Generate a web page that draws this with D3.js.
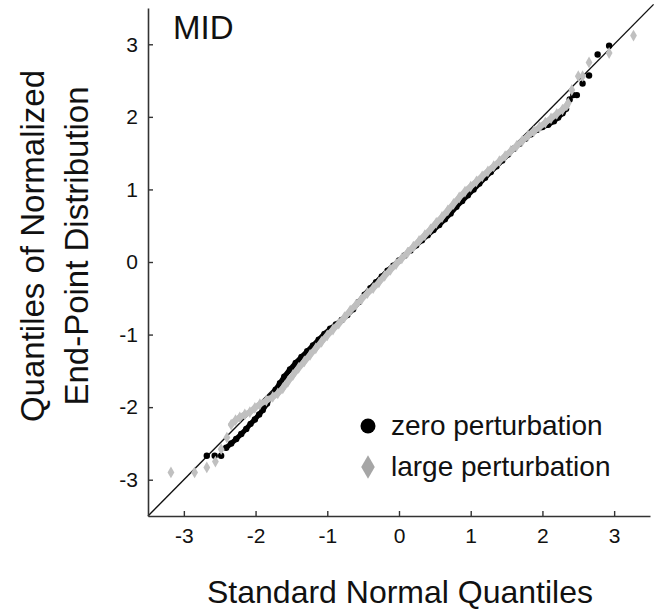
<!DOCTYPE html>
<html>
<head>
<meta charset="utf-8">
<script src="https://cdn.jsdelivr.net/npm/d3@7"></script>
<style>
  body { margin: 0; background: white; }
  text { font-family: "Liberation Sans", Arial, Helvetica, sans-serif; fill: #111; }
</style>
</head>
<body>
<script>
// tick values shared by both axes
const tickVals = [-3, -2, -1, 0, 1, 2, 3]

// zero perturbation: dense band [theoretical, sample] and sparse tail dots
const zeroBand = [[-2.41,-2.56],[-2.34,-2.50],[-2.27,-2.44],[-2.20,-2.37],[-2.13,-2.30],[-2.07,-2.23],
  [-2.01,-2.17],[-1.95,-2.10],[-1.90,-2.04],[-1.84,-1.95],[-1.78,-1.85],[-1.72,-1.76],[-1.66,-1.67],
  [-1.60,-1.58],[-1.52,-1.48],[-1.44,-1.39],[-1.36,-1.31],[-1.28,-1.23],[-1.20,-1.15],[-1.12,-1.07],
  [-1.04,-0.99],[-0.96,-0.92],[-0.88,-0.86],[-0.80,-0.80],[-0.72,-0.73],[-0.64,-0.65],[-0.56,-0.55],
  [-0.48,-0.45],[-0.40,-0.36],[-0.32,-0.28],[-0.24,-0.20],[-0.16,-0.12],[-0.08,-0.05],[0.00,0.02],
  [0.08,0.09],[0.16,0.16],[0.24,0.23],[0.32,0.30],[0.40,0.37],[0.48,0.44],[0.56,0.51],[0.64,0.59],
  [0.72,0.67],[0.80,0.76],[0.88,0.84],[0.96,0.92],[1.04,1.00],[1.12,1.08],[1.20,1.16],[1.28,1.24],
  [1.36,1.32],[1.44,1.40],[1.52,1.48],[1.60,1.56],[1.68,1.63],[1.76,1.70],[1.84,1.76],[1.92,1.82],
  [2.00,1.86],[2.08,1.89],[2.16,1.94],[2.22,1.99],[2.28,2.05],[2.33,2.11]]
const zeroTail = [[-2.68,-2.67],[-2.57,-2.67],[-2.48,-2.67],[2.38,2.24],[2.43,2.30],[2.48,2.30],
  [2.56,2.46],[2.65,2.57],[2.77,2.86],[2.93,2.98]]

// large perturbation
const largeBand = [[-2.34,-2.24],[-2.28,-2.18],[-2.22,-2.14],[-2.15,-2.10],[-2.08,-2.07],[-2.01,-2.01],
  [-1.94,-1.96],[-1.85,-1.91],[-1.76,-1.86],[-1.69,-1.81],[-1.62,-1.74],[-1.55,-1.65],[-1.48,-1.56],
  [-1.40,-1.46],[-1.32,-1.37],[-1.24,-1.28],[-1.16,-1.19],[-1.08,-1.10],[-1.00,-1.01],[-0.92,-0.93],
  [-0.84,-0.85],[-0.76,-0.76],[-0.68,-0.67],[-0.60,-0.59],[-0.52,-0.51],[-0.44,-0.43],[-0.36,-0.36],
  [-0.28,-0.28],[-0.20,-0.19],[-0.12,-0.11],[-0.04,-0.03],[0.04,0.05],[0.12,0.13],[0.20,0.21],
  [0.28,0.29],[0.36,0.37],[0.44,0.45],[0.52,0.54],[0.60,0.62],[0.68,0.71],[0.76,0.80],[0.84,0.89],
  [0.92,0.97],[1.00,1.04],[1.08,1.11],[1.16,1.18],[1.24,1.25],[1.32,1.32],[1.40,1.39],[1.48,1.46],
  [1.56,1.53],[1.64,1.60],[1.72,1.67],[1.80,1.74],[1.88,1.80],[1.96,1.86],[2.04,1.92],[2.12,1.98],
  [2.20,2.04],[2.28,2.10],[2.34,2.16]]
const largeTail = [[-3.18,-2.90],[-2.85,-2.90],[-2.68,-2.83],[-2.56,-2.75],[-2.48,-2.58],[-2.40,-2.42],
  [2.36,2.19],[2.41,2.37],[2.50,2.56],[2.56,2.56],[2.65,2.75],[2.93,2.88],[3.27,3.12]]

const legendLabels = ["zero perturbation", "large perturbation"]

function setattrs(shape, dict) {
    for (let [prop, val] of Object.entries(dict)) {
        shape.attr(prop, val)
    }
}

const W = 665, H = 611
const svg = d3.select("body").append("svg")
setattrs(svg, {"width": W, "height": H})

const x = d3.scaleLinear().domain([-3.5, 3.5]).range([148, 650])
const y = d3.scaleLinear().domain([-3.5, 3.5]).range([516, 8])

const black = "#000", grey = "#c0c0c0"

// reference line y = x
svg.append("line")
    .attr("x1", x(-3.5)).attr("y1", y(-3.5))
    .attr("x2", x(3.55)).attr("y2", y(3.55))
    .attr("stroke", "#111").attr("stroke-width", 1.4)

const line = d3.line().x(d => x(d[0])).y(d => y(d[1]))

// zero perturbation band + dots
svg.append("path").attr("d", line(zeroBand))
    .attr("style", "fill:none; stroke:" + black + "; stroke-width:5; stroke-linejoin:round; stroke-linecap:round;")
svg.append("g").selectAll("circle").data(zeroBand.concat(zeroTail)).join("circle")
    .attr("cx", d => x(d[0])).attr("cy", d => y(d[1])).attr("r", 3.2).attr("fill", black)

// large perturbation band + diamonds
const diamond = d3.symbol().type(d3.symbolDiamond).size(40)
svg.append("path").attr("d", line(largeBand))
    .attr("style", "fill:none; stroke:" + grey + "; stroke-width:6; stroke-linejoin:round; stroke-linecap:round;")
svg.append("g").selectAll("path").data(largeBand.concat(largeTail)).join("path")
    .attr("d", diamond)
    .attr("transform", d => "translate(" + x(d[0]) + "," + y(d[1]) + ")")
    .attr("fill", grey)

// axes: ticks point inward
const xAxis = svg.append("g").attr("transform", "translate(0," + y(-3.5) + ")")
    .call(d3.axisBottom(x).tickValues(tickVals).tickSizeInner(-5).tickSizeOuter(0).tickPadding(12))
const yAxis = svg.append("g").attr("transform", "translate(" + x(-3.5) + ",0)")
    .call(d3.axisLeft(y).tickValues(tickVals).tickSizeInner(-5).tickSizeOuter(0).tickPadding(10))
for (let ax of [xAxis, yAxis]) {
    ax.select(".domain").attr("stroke", "#333").attr("stroke-width", 1.6)
    ax.selectAll(".tick line").attr("stroke", "#333").attr("stroke-width", 1.4)
    ax.selectAll(".tick text").attr("font-size", 21).attr("fill", "#111")
        .attr("font-family", "Liberation Sans, Arial, sans-serif")
        .text(d => d < 0 ? "-" + Math.abs(d) : d)
}

// panel label
svg.append("text").attr("x", 173).attr("y", 39).attr("font-size", 33).text("MID")

// axis titles
svg.append("text").attr("x", 400).attr("y", 603).attr("text-anchor", "middle")
    .attr("font-size", 32).text("Standard Normal Quantiles")
const ytitle = svg.append("text").attr("transform", "translate(0,246) rotate(-90)")
    .attr("text-anchor", "middle").attr("font-size", 33)
ytitle.append("tspan").attr("x", 0).attr("y", 44).text("Quantiles of Normalized")
ytitle.append("tspan").attr("x", 0).attr("y", 88).text("End-Point Distribution")

// legend
const lg = svg.append("g")
lg.append("circle").attr("cx", 368).attr("cy", 426).attr("r", 7.5).attr("fill", black)
lg.append("path").attr("d", d3.symbol().type(d3.symbolDiamond).size(160))
    .attr("transform", "translate(368,467)").attr("fill", "#a6a6a6")
lg.selectAll("text").data(legendLabels).join("text")
    .attr("x", 391).attr("y", (d, i) => 435 + i * 41)
    .attr("font-size", 28).text(d => d)
</script>
</body>
</html>
